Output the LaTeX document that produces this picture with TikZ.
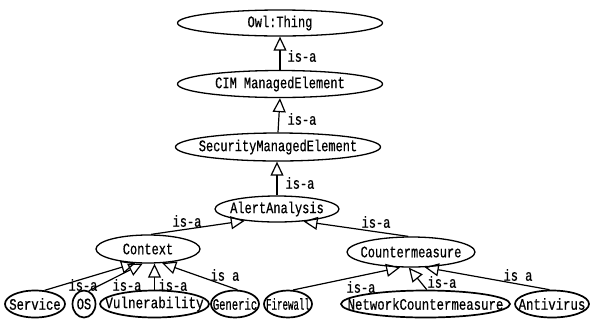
\documentclass[tikz,border=0pt]{standalone}
\usepackage{fontspec}
\usetikzlibrary{arrows.meta,shapes.geometric}
\newfontfamily\simfont[FakeStretch=0.75,FakeBold=0.6]{Liberation Mono}
\newcommand\ctext[2][1]{\makebox[0pt]{\scalebox{#1}[1]{#2}}}
\tikzset{
  ell/.style={draw, ellipse, line width=1.3pt, inner sep=0pt, font=\simfont\fontsize{16}{18}\selectfont},
  leaf/.style={ell, line width=1.7pt},
  isa/.style={line width=1.2pt, -{Triangle[open, length=14pt, width=13pt, line width=1.2pt]}},
  lbl/.style={font=\simfont\fontsize{16}{18}\selectfont, inner sep=0pt}
}
\begin{document}
\begin{tikzpicture}[x=1pt, y=-1pt]
\useasboundingbox (0,0) rectangle (599,325);
\node[ell, minimum width=205pt, minimum height=26pt] (owl) at (280,23) {\ctext{Owl:Thing}};
\node[ell, minimum width=205pt, minimum height=27pt] (cim) at (280,84) {\ctext{CIM ManagedElement}};
\node[ell, minimum width=205pt, minimum height=28pt] (sec) at (278,147) {\ctext{SecurityManagedElement}};
\node[ell, minimum width=124pt, minimum height=26pt] (aa) at (277,209) {\ctext{AlertAnalysis}};
\node[ell, minimum width=104pt, minimum height=28pt] (ctx) at (148,249) {\ctext{Context}};
\node[ell, minimum width=128pt, minimum height=30pt] (cm) at (411,252) {\ctext{Countermeasure}};
\node[leaf, minimum width=60pt, minimum height=27pt] (srv) at (35,304) {\ctext[1.02]{Service}};
\node[leaf, minimum width=23pt, minimum height=27pt] (os) at (84,304) {\ctext{OS}};
\node[leaf, minimum width=109pt, minimum height=27pt] (vul) at (154.5,304) {\ctext[1.05]{Vulnerability}};
\node[leaf, minimum width=48pt, minimum height=27pt] (gen) at (235,304) {\ctext[0.88]{Generic}};
\node[leaf, minimum width=48pt, minimum height=27pt] (fw) at (288,304) {\ctext[0.76]{Firewall}};
\node[leaf, minimum width=169pt, minimum height=27pt] (ncm) at (425.5,304) {\ctext[1.03]{NetworkCountermeasure}};
\node[leaf, minimum width=74pt, minimum height=27pt] (av) at (552,304) {\ctext[1.03]{Antivirus}};

\draw[isa] (cim.north) -- (owl.south);
\draw[isa] (sec.north) -- (cim.south);
\draw[isa] (aa.north) -- (aa.north |- sec.south);
\draw[isa] (ctx.78) -- (aa.200);
\draw[isa] (cm.100) -- (aa.335);
\draw[isa] (srv.55) -- (ctx.228);
\draw[isa] (os.70) -- (ctx.250);
\draw[isa] (vul.north) -- (vul.north |- ctx.south);
\draw[isa] (gen.80) -- (ctx.315);
\draw[isa] (fw.70) -- (cm.235);
\draw[isa] (ncm.85) -- (cm.262);
\draw[isa] (av.100) -- (cm.312);

\node[lbl] (l1) at (302,56) {is-a};
\node[lbl] (l2) at (302,119) {is-a};
\node[lbl] (l3) at (300,183) {is-a};
\node[lbl] (l4) at (187,221) {is-a};
\node[lbl] (l5) at (376,222) {is-a};
\node[lbl] (l6) at (83,285) {is-a};
\node[lbl] (l7) at (127,285) {is-a};
\node[lbl] (l8) at (173,285) {is-a};
\node[lbl] (l9) at (225,275) {is a};
\node[lbl] (l10) at (361,287) {is-a};
\node[lbl] (l11) at (442,282) {is-a};
\node[lbl] (l12) at (518,275) {is a};
\end{tikzpicture}
\end{document}
